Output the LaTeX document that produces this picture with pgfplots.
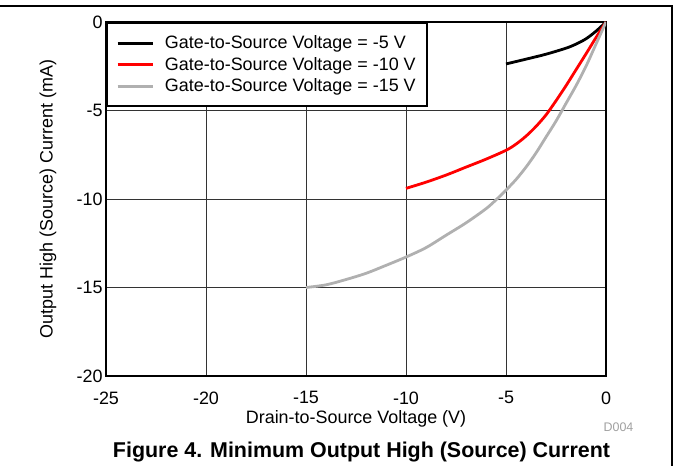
\documentclass[border=0pt]{standalone}
\usepackage{fontspec}
\setmainfont{Liberation Sans}
\usepackage{pgfplots}
\pgfplotsset{compat=1.18}
\definecolor{lgray}{RGB}{176,176,176}
\definecolor{dgray}{RGB}{160,160,160}

\begin{document}
\begin{tikzpicture}[x=1bp,y=1bp]
\useasboundingbox (0,0) rectangle (673,466);
\draw[line width=1.3bp] (0,460) -- (672,460) -- (672,0);
\begin{axis}[
    at={(106bp,90bp)}, anchor=south west,
    width=500bp, height=354bp, scale only axis,
    xmin=-25, xmax=0, ymin=-20, ymax=0,
    xtick={-25,-20,...,0},
    ytick={-20,-15,...,0},
    grid=major,
    major grid style={black!80, line width=0.8bp},
    axis line style={line width=2.5bp},
    major tick length=0pt,
    /pgf/number format/assume math mode=true,
    tick label style={font=\fontsize{18}{20}\selectfont},
    xticklabel style={yshift=-12bp},
    label style={font=\fontsize{18}{20}\selectfont},
    xlabel={Drain-to-Source Voltage (V)},
    ylabel={Output High (Source) Current (mA)},
    xlabel style={at={(axis description cs:0.5,-0.122)}, anchor=center},
    ylabel style={at={(axis description cs:-0.116,0.5)}, anchor=center, rotate=0},
    legend style={at={(0,1)}, anchor=north west, draw=black, line width=2bp,
        font=\fontsize{18}{20}\selectfont, inner xsep=9bp, inner ysep=11bp,
        row sep=3bp,
        /tikz/every odd column/.append style={column sep=9bp}},
    legend cell align=left,
    legend image code/.code={%
        \draw[#1, line width=3bp] (0bp,0bp) -- (35bp,0bp);},
]
\addplot[black, line width=2.8bp, smooth] coordinates {
    (-5,-2.37) (-4,-2.1) (-3,-1.82) (-2,-1.48) (-1.5,-1.25)
    (-1,-0.95) (-0.5,-0.52) (0,0)
};
\addlegendentry{Gate-to-Source Voltage = -5 V}
\addplot[red, line width=2.8bp, smooth] coordinates {
    (-10,-9.4) (-9,-9.05) (-8,-8.65) (-7,-8.2) (-6,-7.75) (-5,-7.25)
    (-4.5,-6.9) (-4,-6.45) (-3.5,-5.9) (-3,-5.25) (-2.5,-4.45)
    (-2,-3.6) (-1.5,-2.7) (-1,-1.8) (-0.5,-0.88) (0,0)
};
\addlegendentry{Gate-to-Source Voltage = -10 V}
\addplot[lgray, line width=2.8bp, smooth] coordinates {
    (-15,-15) (-14,-14.85) (-13,-14.55) (-12,-14.2) (-11,-13.75)
    (-10,-13.28) (-9,-12.75) (-8,-12.05) (-7,-11.35) (-6,-10.55)
    (-5.5,-10.05) (-5,-9.5) (-4.5,-8.9) (-4,-8.2) (-3.5,-7.4)
    (-3,-6.5) (-2.5,-5.6) (-2,-4.6) (-1.5,-3.6) (-1,-2.5)
    (-0.5,-1.25) (0,0)
};
\addlegendentry{Gate-to-Source Voltage = -15 V}
\end{axis}
\node[text=dgray, font=\fontsize{12.5}{14}\selectfont] at (618.5,39) {D004};
\node[font=\fontsize{21.5}{24}\bfseries\selectfont] at (361.5,14) {Figure 4. Minimum Output High (Source) Current};
\end{tikzpicture}
\end{document}
